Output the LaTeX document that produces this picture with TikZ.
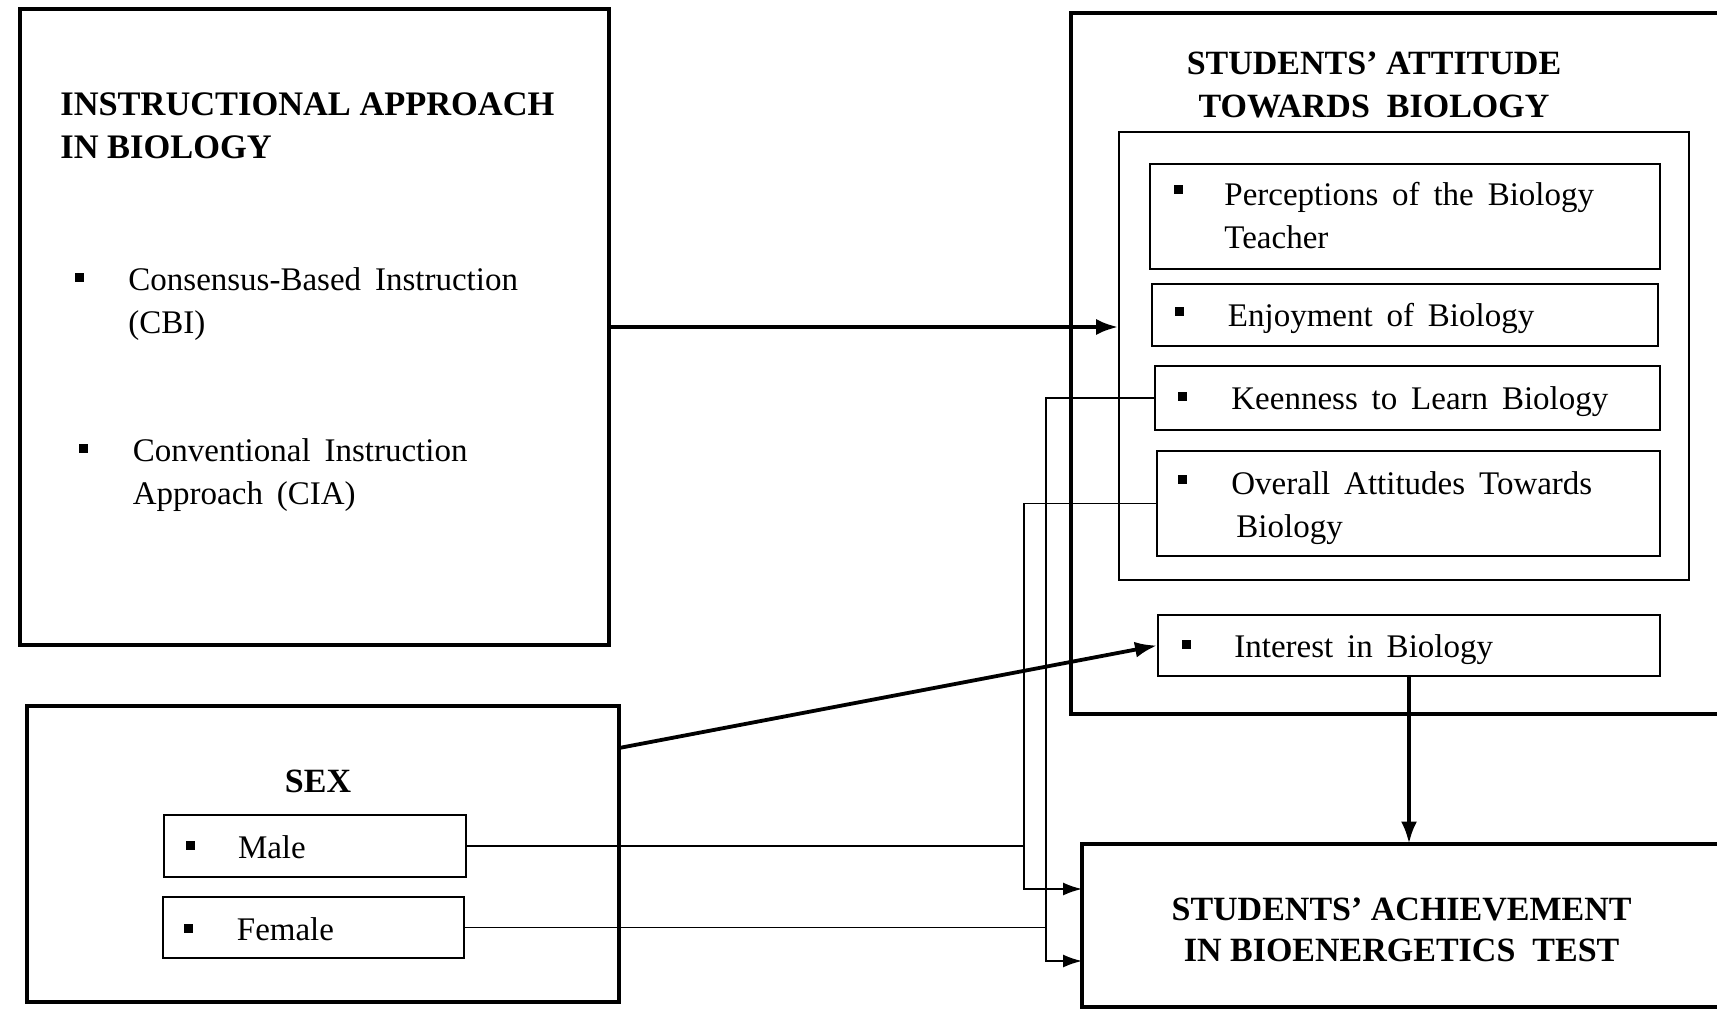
\documentclass[tikz,border=0pt]{standalone}
\usepackage{fontspec}
\setmainfont{Liberation Serif}
\usetikzlibrary{fit,calc,arrows.meta}
\newcommand\widewords{\spaceskip=0.42em\relax}
\begin{document}
\begin{tikzpicture}[x=0.5pt,y=-0.5pt,
  outer/.style={draw, line width=2pt, inner sep=0pt},
  inbox/.style={draw, line width=1pt, inner sep=0pt},
  grpbox/.style={draw, line width=0.8pt, inner sep=0pt},
  hd/.style={font=\fontsize{17}{21.5}\selectfont\bfseries, anchor=base, inner sep=0pt},
  hdl/.style={font=\fontsize{17.2}{21.5}\selectfont\bfseries, anchor=base west, inner sep=0pt},
  txt/.style={font={\fontsize{16.5}{21.5}\selectfont\widewords}, anchor=base west, inner sep=0pt},
  bul/.style={fill, minimum size=4.5pt, inner sep=0pt},
  thinline/.style={line width=0.9pt},
  thickarr/.style={line width=1.9pt, -{Latex[length=11pt,width=8pt]}},
  thinarr/.style={line width=0.9pt, -{Latex[length=9.5pt,width=6.5pt]}}]
\useasboundingbox (0,0) rectangle (1717,1012);

% ---------- left: instructional approach ----------
\node[outer, fit={(20,9) (609,645)}] (instr) {};
\node[hdl] (instrT1) at (60,115) {INSTRUCTIONAL APPROACH};
\node[hdl] (instrT2) at (60,158) {IN BIOLOGY};
\node[bul] (bcbi) at (79,277) {};
\node[txt] (cbi) at (128,290) {\begin{tabular}[t]{@{}l@{}}Consensus-Based Instruction\\(CBI)\end{tabular}};
\node[bul] (bcia) at (83,448) {};
\node[txt] (cia) at (132.5,461) {\begin{tabular}[t]{@{}l@{}}Conventional Instruction\\Approach (CIA)\end{tabular}};

% ---------- left: sex ----------
\node[outer, fit={(27,706) (619,1002)}] (sex) {};
\node[hd] (sexT) at (318,792) {SEX};
\node[inbox, fit={(164,815) (466,877)}] (male) {};
\node[bul] (bmale) at (190.5,845) {};
\node[txt] (maleT) at (237.6,858) {Male};
\node[inbox, fit={(163,897) (464,958)}] (female) {};
\node[bul] (bfemale) at (188,928.5) {};
\node[txt] (femaleT) at (236.5,940) {Female};

% ---------- right: attitude ----------
\node[inner sep=0pt, fit={(1071,13) (1717,714)}] (att) {};
\draw[line width=2pt] (att.north east) -- (att.north west) -- (att.south west) -- (att.south east);
\node[hd] (attT1) at (1374,74.5) {STUDENTS’ ATTITUDE};
\node[hd] (attT2) at (1374,117) {TOWARDS\ \ BIOLOGY};
\node[grpbox, fit={(1119,132) (1689,580)}] (grp) {};

\node[inbox, fit={(1150,164) (1660,269)}] (perc) {};
\node[bul] (bperc) at (1178,189.5) {};
\node[txt] (percT) at (1224,205) {\begin{tabular}[t]{@{}l@{}}Perceptions of the Biology\\Teacher\end{tabular}};

\node[inbox, fit={(1152,284) (1658,346)}] (enjoy) {};
\node[bul] (benjoy) at (1179,311) {};
\node[txt] (enjoyT) at (1227.5,326) {Enjoyment of Biology};

\node[inbox, fit={(1155,366) (1660,430)}] (keen) {};
\node[bul] (bkeen) at (1182.6,396) {};
\node[txt] (keenT) at (1231,409.5) {Keenness to Learn Biology};

\node[inbox, fit={(1157,451) (1660,556)}] (overall) {};
\node[bul] (boverall) at (1182.6,479.6) {};
\node[txt] (overallT) at (1231,494) {\begin{tabular}[t]{@{}l@{}}Overall Attitudes Towards\\\hspace*{2.5pt}Biology\end{tabular}};

\node[inbox, fit={(1158,615) (1660,676)}] (interest) {};
\node[bul] (binterest) at (1186,644) {};
\node[txt] (interestT) at (1234,657) {Interest in Biology};

% ---------- right: achievement ----------
\node[inner sep=0pt, fit={(1082,844) (1717,1007)}] (ach) {};
\draw[line width=2pt] (ach.north east) -- (ach.north west) -- (ach.south west) -- (ach.south east);
\node[hd] (achT1) at (1401.6,920) {STUDENTS’ ACHIEVEMENT};
\node[hd] (achT2) at (1401.6,961) {IN BIOENERGETICS\ \ TEST};

% ---------- connectors ----------
\coordinate (achA) at (1082,889);
\coordinate (achB) at (1082,961);
\coordinate (xA) at (1024,0);
\coordinate (xB) at (1046,0);
\coordinate (sexOut) at (619,748);

\draw[thickarr] (instr.east) -- (instr.east -| grp.west);
\draw[thickarr] (sexOut) -- (interest.west);
\draw[thickarr] (interest.south) -- (interest.south |- ach.north);

\draw[thinarr] (overall.west) -| (xA |- achA) -- (achA);
\draw[thinarr] (keen.west) -| (xB |- achB) -- (achB);
\draw[thinline] (male.east) -- (male.east -| xA);
\draw[thinline] (female.east) -- (female.east -| xB);
\end{tikzpicture}
\end{document}
